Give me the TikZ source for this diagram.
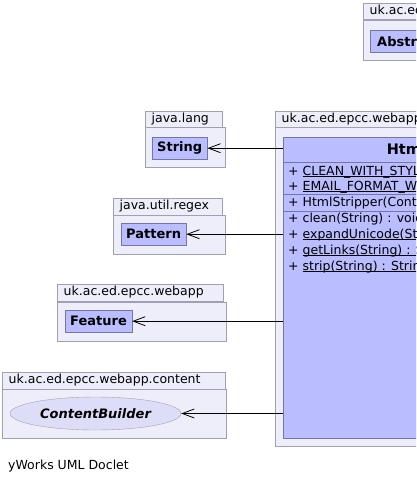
\documentclass[tikz,border=0pt]{standalone}
\usepackage{fontspec}
\setmainfont{DejaVu Sans}
\usetikzlibrary{arrows.meta,shapes.geometric}
\definecolor{pkgfill}{RGB}{238,238,250}
\definecolor{pkgline}{RGB}{160,160,178}
\definecolor{clsfill}{RGB}{186,189,255}
\definecolor{clsline}{RGB}{118,118,165}
\definecolor{ellfill}{RGB}{221,221,248}
\newcommand\stat[1]{\underline{\smash{#1}}}

\begin{document}
\begin{tikzpicture}[x=1pt, y=-1pt]
				\tikzstyle{every node}=[inner sep=0pt, font=\fontsize{12.5}{15}\selectfont]
				\tikzstyle{tab}=[draw=pkgline, fill=pkgfill, anchor=north west, inner xsep=6.5pt, inner ysep=2pt, text height=9.5pt, text depth=3pt, align=left]
				\tikzstyle{pkg}=[draw=pkgline, fill=pkgfill, anchor=north west]
				\tikzstyle{cls}=[draw=clsline, fill=clsfill, anchor=north west, minimum height=22pt, inner xsep=5pt, font=\bfseries\fontsize{13}{15}\selectfont]
				\tikzstyle{ell}=[ellipse, draw=pkgline, fill=ellfill, minimum width=171pt, minimum height=33pt, font=\bfseries\itshape\fontsize{13}{15}\selectfont]
				\tikzstyle{member}=[anchor=west, inner xsep=2pt, text height=9.5pt, text depth=3pt]
				\tikzstyle{dep}=[-{Straight Barb[length=12pt, width=9pt]}, line width=0.8pt]
				\useasboundingbox (0,0) rectangle (416,484);
				\clip (0,0) rectangle (416,484);
				% packages
				\node[tab, text width=100pt] (abstab) at (363,3) {uk.ac.ed.epcc.webapp.content};
				\node[pkg, minimum width=100pt, minimum height=40pt] (abspkg) at (363,20) {};
				\node[tab, text width=64pt] (langtab) at (145,111) {java.lang};
				\node[pkg, minimum width=80pt, minimum height=40pt] (langpkg) at (145,127) {};
				\node[tab, text width=96pt] (regextab) at (113,198) {java.util.regex};
				\node[pkg, minimum width=112pt, minimum height=39pt] (regexpkg) at (113,215) {};
				\node[tab, text width=153pt] (webapptab) at (57,284) {uk.ac.ed.epcc.webapp};
				\node[pkg, minimum width=169pt, minimum height=39pt] (webapppkg) at (57,302) {};
				\node[tab, text width=210pt] (contenttab) at (2,372) {uk.ac.ed.epcc.webapp.content};
				\node[pkg, minimum width=224pt, minimum height=49pt] (contentpkg) at (2,389) {};
				\node[tab, text width=200pt] (maintab) at (275,111) {uk.ac.ed.epcc.webapp.content};
				\node[pkg, minimum width=400pt, minimum height=319pt] (mainpkg) at (275,127) {};
				% classes
				\node[cls, minimum width=120pt, inner xsep=7pt, text width=106pt, align=left] (Abstract) at (370,30) {AbstractContentBuilder};
				\node[cls] (String) at (152,137) {String};
				\node[cls] (Pattern) at (121,223) {Pattern};
				\node[cls] (Feature) at (65,310) {Feature};
				\node[ell] (CB) at (95.5,413.5) {ContentBuilder};
				\node[cls, minimum width=314pt, minimum height=301pt] (hs) at (283,137) {};
				\node[font=\bfseries\fontsize{14.5}{17}\selectfont] (hsname) at (440,150) {HtmlStripper};
				\foreach \y in {162,194,211}
					\draw[clsline, line width=0.8pt] (283,\y) -- (597,\y);
				\node[member] (f1) at (286,172) {+ \stat{CLEAN\_WITH\_STYLES : int}};
				\node[member] (f2) at (286,187) {+ \stat{EMAIL\_FORMAT\_WRAP : int}};
				\node[member] (c1) at (286,203) {+ HtmlStripper(ContentBuilder)};
				\node[member] (m1) at (286,219) {+ clean(String) : void};
				\node[member] (m2) at (286,235) {+ \stat{expandUnicode(String) : String}};
				\node[member] (m3) at (286,251) {+ \stat{getLinks(String) : String}};
				\node[member] (m4) at (286,267) {+ \stat{strip(String) : String}};
				% dependencies
				\draw[dep] (hs.west |- String.east) -- (String.east);
				\draw[dep] (hs.west |- Pattern.east) -- (Pattern.east);
				\draw[dep] (hs.west |- Feature.east) -- (Feature.east);
				\draw[dep] (hs.west |- CB.east) -- (CB.east);
				\node[anchor=west] (doclet) at (8,466) {yWorks UML Doclet};
		\end{tikzpicture}
\end{document}
